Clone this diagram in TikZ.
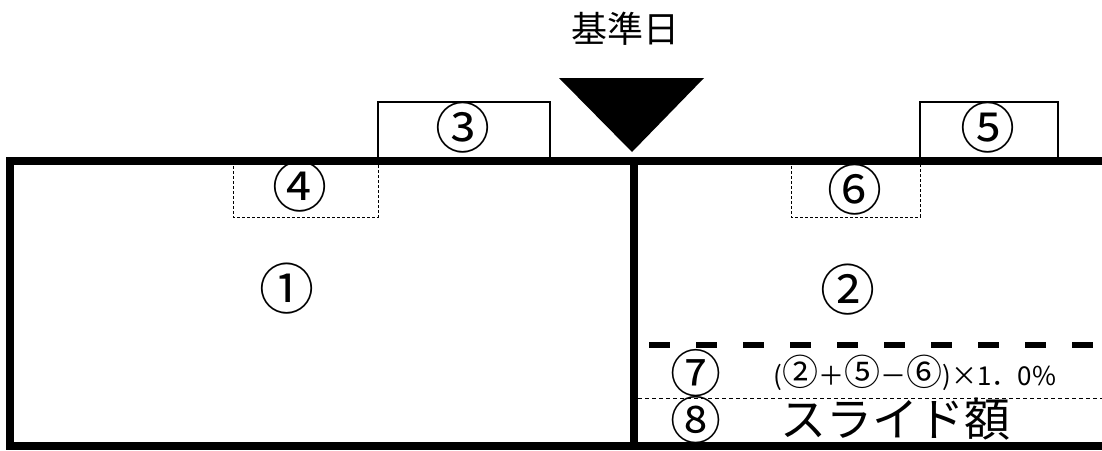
\documentclass[tikz,border=0pt]{standalone}
\usepackage{fontspec}
\newfontfamily\jp{Noto Sans CJK JP}
\newcommand{\bigc}[1]{{\fontsize{36}{36}\selectfont #1}}
\begin{document}
\begin{tikzpicture}[x=1pt,y=-1pt,
  thickline/.style={line width=7.5pt},
  thinbox/.style={line width=1.4pt},
  dashbox/.style={line width=0.9pt, dash pattern=on 3pt off 2pt},
  num/.style={font=\jp\fontsize{55}{55}\selectfont, inner sep=0pt, text height=44pt, text depth=-1pt},
  smallnum/.style={font=\jp\fontsize{51}{51}\selectfont, inner sep=0pt, text height=41pt, text depth=-1pt},
  lbl/.style={font=\jp, inner sep=0pt}]
\useasboundingbox (0,0) rectangle (1102,450);
% upper boxes
\draw[thinbox] (378,161) -- (378,102) -- (550,102) -- (550,161);
\draw[thinbox] (920,161) -- (920,102) -- (1058,102) -- (1058,161);
% dashed lower boxes
\draw[dashbox] (233,161) -- (233,217) -- (378,217) -- (378,161);
\draw[dashbox] (791,161) -- (791,217) -- (920,217) -- (920,161);
% triangle
\fill (559,78) -- (704,78) -- (632,152) -- cycle;
% frame
\draw[thickline] (1102,161) -- (10,161) -- (10,446) -- (1102,446);
\draw[thickline] (634,161) -- (634,446);
% dashed lines
\draw[line width=6pt, dash pattern=on 21pt off 26pt] (649,345) -- (1102,345);
\draw[line width=0.8pt, dash pattern=on 4pt off 3pt] (638,398) -- (1102,398);
% texts
\node[lbl, font=\jp\fontsize{36}{36}\selectfont] (title) at (625,29) {基準日};
\node[num] (n1) at (287,287) {①};
\node[num] (n2) at (848,288) {②};
\node[num] (n3) at (463,126) {③};
\node[num] (n4) at (300,185) {④};
\node[num] (n5) at (988,126) {⑤};
\node[num] (n6) at (855,188) {⑥};
\node[smallnum] (n7) at (696,372) {⑦};
\node[smallnum] (n8) at (696,419) {⑧};
\node[lbl, font=\jp\fontsize{26}{26}\selectfont] (f7) at (915,373) {(\bigc{②}＋\bigc{⑤}－\bigc{⑥})×1．0\%};
\node[lbl, font=\jp\fontsize{46}{46}\selectfont] (f8) at (895,419) {スライド額};
\end{tikzpicture}
\end{document}
